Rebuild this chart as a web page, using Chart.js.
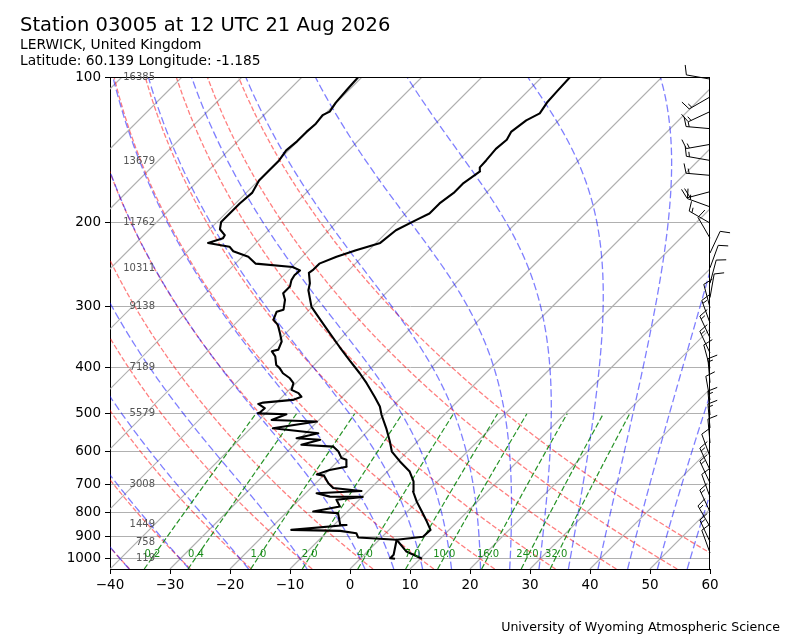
<!DOCTYPE html>
<html>
<head>
<meta charset="utf-8">
<script src="https://cdn.jsdelivr.net/npm/chart.js@4.4.1/dist/chart.umd.min.js"></script>
<style>
body{margin:0;background:#fff;}
#wrap{position:relative;width:800px;height:640px;font-family:"DejaVu Sans",sans-serif;}
.txt{position:absolute;white-space:nowrap;color:#000;}
</style>
</head>
<body>
<div id="wrap">
<canvas id="skewt" width="800" height="640"></canvas>
<div class="txt" style="left:20px;top:14px;font-size:19.5px;line-height:22px">Station 03005 at 12 UTC 21 Aug 2026</div>
<div class="txt" style="left:20px;top:36px;font-size:13.8px;line-height:17px">LERWICK, United Kingdom</div>
<div class="txt" style="left:20px;top:52px;font-size:13.8px;line-height:17px">Latitude: 60.139 Longitude: -1.185</div>
<div class="txt" style="right:20px;top:619px;font-size:12.6px;line-height:16px">University of Wyoming Atmospheric Science</div>
</div>
<script>
// sounding
let tempP = [1000, 966, 913, 900, 871, 837, 798, 761, 725, 691, 659, 628, 599, 571, 536, 503, 483, 461, 432, 412, 387, 363, 340, 319, 300, 277, 268, 255, 251, 244, 236, 229, 221, 208, 198, 192, 183, 174, 166, 157, 154, 149, 141, 135, 130, 123, 119, 113, 107, 100];
let tempC = [10.3, 6.5, 2.9, 6.8, 6.9, 4.9, 2.4, -0.1, -2.4, -4.0, -6.3, -9.6, -12.6, -14.6, -17.4, -20.4, -22.1, -24.6, -28.2, -31.0, -34.9, -38.8, -42.7, -46.5, -50.1, -53.4, -54.3, -56.2, -56.0, -56.0, -54.3, -52.1, -49.3, -48.8, -47.1, -46.0, -46.0, -45.4, -45.4, -44.6, -45.3, -45.4, -45.7, -45.4, -46.0, -45.4, -44.3, -44.9, -45.1, -45.3];

let dewP = [1000, 997, 981, 943, 913, 903, 885, 875, 871, 851, 850, 804, 798, 779, 754, 744, 743, 731, 723, 713, 697, 672, 668, 654, 648, 644, 623, 618, 599, 585, 580, 566, 562, 549, 536, 519, 515, 501, 499, 497, 487, 477, 474, 468, 461, 453, 446, 432, 422, 412, 402, 396, 380, 371, 368, 354, 340, 327, 319, 307, 304, 290, 281, 277, 272, 264, 258, 252, 248, 244, 236, 230, 225, 221, 216, 213, 207, 200, 192, 183, 174, 164, 156, 149, 142, 136, 130, 125, 120, 118, 113, 106, 100];
let dewC = [5.8, 4.9, 4.9, 3.8, 2.9, -3.9, -4.9, -8.0, -16.3, -7.9, -9.0, -11.3, -15.7, -12.1, -13.8, -9.9, -15.4, -18.2, -11.1, -16.3, -17.9, -19.9, -21.3, -19.9, -18.5, -17.6, -18.8, -19.9, -21.5, -23.2, -28.8, -26.5, -30.7, -27.9, -36.3, -30.1, -37.9, -36.4, -41.3, -41.1, -41.0, -42.8, -42.2, -37.7, -36.8, -37.9, -39.6, -40.4, -41.8, -43.8, -45.2, -46.3, -47.9, -49.3, -48.5, -49.3, -51.0, -52.7, -54.3, -55.1, -54.3, -55.7, -57.1, -57.1, -57.1, -57.9, -58.2, -58.1, -59.9, -66.6, -69.0, -72.4, -73.8, -78.0, -76.3, -76.5, -78.3, -79.3, -79.3, -79.3, -79.0, -79.9, -79.9, -79.9, -80.4, -80.1, -80.1, -79.9, -80.2, -79.6, -80.1, -80.4, -80.6];

// wind barbs (deg, kt)
let windP = [101, 110, 118, 128, 138, 149, 160, 173, 186, 201, 216, 232, 249, 268, 287, 301, 324, 348, 374, 402, 431, 468, 503, 535, 575, 614, 654, 696, 744, 799, 858, 922, 972];
let windDir = [280, 240, 245, 275, 260, 280, 275, 255, 290, 300, 330, 25, 20, 15, 10, 345, 340, 335, 335, 345, 355, 350, 355, 355, 355, 340, 335, 335, 340, 335, 330, 335, 340];
let windSpd = [10, 15, 15, 15, 15, 15, 15, 20, 15, 15, 10, 10, 10, 10, 10, 10, 15, 15, 15, 10, 15, 10, 15, 15, 10, 10, 15, 15, 10, 15, 15, 15, 10];

// height labels
let heightP = [100, 150, 200, 250, 300, 400, 500, 700, 850, 925, 1000];
let heightM = ['16385', '13679', '11762', '10311', '9138', '7189', '5579', '3008', '1449', '758', '119'];

// axes
let pressureTicks = [100, 200, 300, 400, 500, 600, 700, 800, 900, 1000];
let isothermT = [-120, -110, -100, -90, -80, -70, -60, -50, -40, -30, -20, -10, 0, 10, 20, 30, 40, 50];
let dryT0 = [-40, -30, -20, -10, 0, 10, 20, 30, 40, 50, 60];
let moistT0 = [-40, -30, -20, -10, 0, 5, 10, 15, 20, 25, 30, 35, 40, 45, 50, 55, 60];
let mixW = [0.2, 0.4, 1, 2, 4, 7, 10, 16, 24, 32];
let mixLabels = ['0.2', '0.4', '1.0', '2.0', '4.0', '7.0', '10.0', '16.0', '24.0', '32.0'];

const PBOT = 1050, PTOP = 100, SKEW = 34.87;
const Rd = 287.04749, Cp = 1004.6662, Lv = 2.50084e6, eps = 0.621957;

function skewX(t, p){ return t + SKEW * Math.log(PBOT / p); }

function levels(){
    let out = [];
    for (let p = PBOT; p >= PTOP; p -= 10) out.push(p);
    return out;
}

function satVap(tk){ return 6.112 * Math.exp(17.67 * (tk - 273.15) / (tk - 29.65)); }
function dTdp(p, t){
    let es = satVap(t), rs = eps * es / (p - es);
    return (Rd * t + Lv * rs) / (Cp + (Lv * Lv * rs * eps) / (Rd * t * t)) / p;
}
function rk4(p, t, h){
    let k1 = dTdp(p, t), k2 = dTdp(p + h/2, t + h*k1/2), k3 = dTdp(p + h/2, t + h*k2/2), k4 = dTdp(p + h, t + h*k3);
    return t + h * (k1 + 2*k2 + 2*k3 + k4) / 6;
}
function moistLine(t0){
    let pts = [], t = t0 + 273.15, p = 1000;
    let below = [];
    let tb = t;
    for (let pb = 1000; pb < PBOT; pb += 5){ tb = rk4(pb, tb, 5); below.push({p: pb + 5, t: tb}); }
    below.reverse().forEach(d => pts.push({x: skewX(d.t - 273.15, d.p), y: d.p}));
    pts.push({x: skewX(t0, 1000), y: 1000});
    while (p > PTOP){ t = rk4(p, t, -5); p -= 5; pts.push({x: skewX(t - 273.15, p), y: p}); }
    return pts;
}
function dewFromMix(w, p){
    let e = p * w / (eps + w), l = Math.log(e / 6.112);
    return 243.5 * l / (17.67 - l);
}

let datasets = [];
function line(pts, color, width, dash, order){
    datasets.push({data: pts, showLine: true, borderColor: color, borderWidth: width, borderDash: dash || [],
        pointRadius: 0, fill: false, tension: 0, order: order, borderJoinStyle: 'round'});
}

line(tempP.map((p, i) => ({x: skewX(tempC[i], p), y: p})), '#000', 2.1, null, 0);
line(dewP.map((p, i) => ({x: skewX(dewC[i], p), y: p})), '#000', 2.1, null, 0);

mixW.forEach(w => {
    let pts = [];
    for (let p = PBOT; p >= 500; p -= 25) pts.push({x: skewX(dewFromMix(w / 1000, p), p), y: p});
    line(pts, 'rgba(0,128,0,0.85)', 1.2, [5.5, 2.5], 1);
});
moistT0.forEach(t0 => line(moistLine(t0), 'rgba(0,0,255,0.5)', 1.3, [7.5, 3.3], 2));
dryT0.forEach(t0 => {
    let pts = levels().map(p => ({x: skewX((t0 + 273.15) * Math.pow(p / 1000, Rd / Cp) - 273.15, p), y: p}));
    line(pts, 'rgba(255,0,0,0.5)', 1.3, [5, 2.2], 3);
});
isothermT.forEach(t => line([{x: skewX(t, PBOT), y: PBOT}, {x: skewX(t, PTOP), y: PTOP}], '#b0b0b0', 1.2, null, 4));

function drawBarb(ctx, x0, y0, dir, spd){
    let L = 24, r = dir * Math.PI / 180;
    let dx = Math.sin(r), dy = -Math.cos(r), fx = -dy, fy = dx;
    let tx = x0 + dx * L, ty = y0 + dy * L;
    ctx.beginPath();
    ctx.moveTo(x0, y0); ctx.lineTo(tx, ty);
    let n10 = Math.floor(spd / 10), n5 = (spd % 10) >= 5 ? 1 : 0;
    let pos = 0, H = 0.4 * L, sp = 0.13 * L;
    for (let i = 0; i < n10; i++){
        let sx = tx - dx * pos, sy = ty - dy * pos;
        ctx.moveTo(sx, sy); ctx.lineTo(sx + fx * H + dx * H * 0.3, sy + fy * H + dy * H * 0.3);
        pos += sp;
    }
    if (n5){
        if (n10 === 0) pos = sp;
        let sx = tx - dx * pos, sy = ty - dy * pos;
        ctx.moveTo(sx, sy); ctx.lineTo(sx + fx * H/2 + dx * H * 0.15, sy + fy * H/2 + dy * H * 0.15);
    }
    ctx.stroke();
}

const skewExtras = {
    id: 'skewExtras',
    afterDraw(chart){
        let ctx = chart.ctx, a = chart.chartArea, ys = chart.scales.y, xs = chart.scales.x;
        ctx.save();
        ctx.strokeStyle = '#000'; ctx.lineWidth = 1;
        ctx.beginPath();
        ctx.moveTo(a.left, a.top + 0.5); ctx.lineTo(a.right, a.top + 0.5);
        ctx.moveTo(a.right - 0.5, a.top); ctx.lineTo(a.right - 0.5, a.bottom);
        ctx.stroke();

        ctx.font = '10px "DejaVu Sans"';
        ctx.fillStyle = '#555'; ctx.textAlign = 'right'; ctx.textBaseline = 'middle';
        heightP.forEach((p, i) => ctx.fillText(heightM[i], a.left + 45, ys.getPixelForValue(p)));

        ctx.fillStyle = 'rgba(0,128,0,0.9)'; ctx.textAlign = 'center'; ctx.textBaseline = 'alphabetic';
        let y1000 = ys.getPixelForValue(1000);
        mixW.forEach((w, i) => {
            let x = xs.getPixelForValue(skewX(dewFromMix(w / 1000, 1000), 1000));
            ctx.fillText(mixLabels[i], x + 1, y1000 - 2);
        });

        ctx.strokeStyle = '#000'; ctx.lineWidth = 1;
        windP.forEach((p, i) => drawBarb(ctx, a.right, ys.getPixelForValue(p), windDir[i], windSpd[i]));
        ctx.restore();
    }
};

let tickFont = {family: 'DejaVu Sans', size: 13.5};
new Chart(document.getElementById('skewt'), {
    type: 'scatter',
    data: {datasets: datasets},
    options: {
        responsive: false,
        animation: false,
        events: [],
        layout: {padding: {left: 0, right: 90, top: 77, bottom: 0}},
        plugins: {legend: {display: false}, tooltip: {enabled: false}},
        scales: {
            x: {
                type: 'linear', min: -40, max: 60,
                ticks: {stepSize: 10, font: tickFont, color: '#000', padding: 3,
                    callback: v => v < 0 ? '\u2212' + Math.abs(v) : String(v)},
                grid: {drawOnChartArea: false, tickColor: '#000', tickLength: 5},
                border: {color: '#000'},
                afterFit: s => { s.height = 71; }
            },
            y: {
                type: 'logarithmic', reverse: true, min: PTOP, max: PBOT,
                afterBuildTicks: s => { s.ticks = pressureTicks.map(v => ({value: v})); },
                ticks: {autoSkip: false, font: tickFont, color: '#000', padding: 4, callback: v => String(v)},
                grid: {color: '#b0b0b0', tickColor: '#000', tickLength: 5},
                border: {color: '#000'},
                afterFit: s => { s.width = 110; }
            }
        }
    },
    plugins: [skewExtras]
});
</script>
</body>
</html>
